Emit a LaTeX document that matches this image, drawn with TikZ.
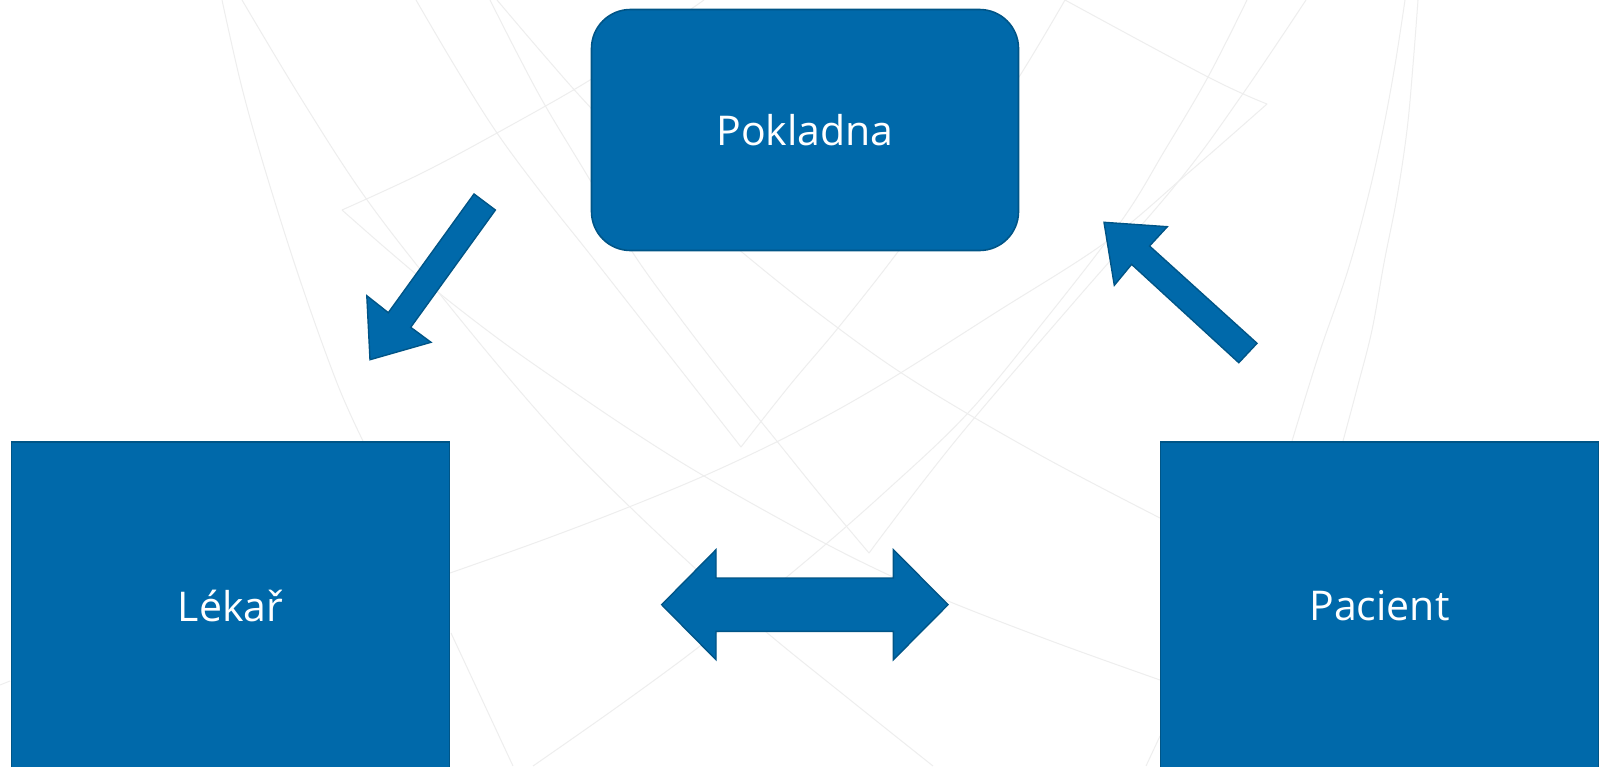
\documentclass[tikz,border=0pt]{standalone}
\usepackage{fontspec}
\setmainfont{Open Sans}
\definecolor{boxblue}{HTML}{0069AA}
\definecolor{boxedge}{HTML}{005587}
\definecolor{bgline}{HTML}{EEEEEE}
\tikzset{
  bg/.style={draw=bgline,line width=1pt},
  actor/.style={draw=boxedge,fill=boxblue,line width=1.6pt,text=white,inner sep=0pt,
    font=\fontsize{41}{46}\selectfont},
  blockarrow/.style={draw=boxedge,fill=boxblue,line width=1.4pt,line join=miter}
}
\newcommand{\bgcurve}[1]{\draw[bg] plot[smooth,tension=0.6] coordinates {#1};}
\begin{document}
\begin{tikzpicture}[x=1pt,y=-1pt]
\clip (0,0) rectangle (1601,766);
\fill[white] (0,0) rectangle (1601,766);
% background line work
\bgcurve{(704,0) (650,38) (590,80) (497,133) (420,174) (342,210)}
\bgcurve{(342,210) (390,252) (439,293) (500,340) (561,383) (632,431) (704,476) (800,530) (874,568) (948,601) (1054,642) (1160,680)}
\draw[bg] (0,685) -- (10,681);
\bgcurve{(450,573) (540,541) (629,507) (715,471) (800,430) (884,383) (995,313) (1106,242) (1187,174) (1267,104)}
\bgcurve{(1267,104) (1208,77) (1065,0)}
\bgcurve{(1065,0) (1019,77) (958,168) (897,253) (838,328) (790,385) (741,447)}
\bgcurve{(416,0) (456,68) (497,133) (543,195) (589,253) (640,318) (691,383) (741,447)}
\bgcurve{(490,0) (518,55) (546,107) (590,180) (633,253) (680,318) (730,383) (776,440) (822,497) (869,553)}
\bgcurve{(869,553) (922,483) (976,416) (1075,301) (1178,182) (1242,95) (1306,0)}
\bgcurve{(1247,0) (1208,77) (1165,150) (1122,220) (1045,320) (968,413) (885,492) (800,566) (704,643) (620,705) (533,766)}
\bgcurve{(242,0) (302,100) (365,197) (439,293) (513,383) (570,447) (630,507) (697,570) (765,631) (849,699) (933,766)}
\bgcurve{(222,0) (242,88) (266,173) (300,280) (337,383) (363,441)}
\draw[bg] (451,633) -- (513,766);
\bgcurve{(497,0) (543,54) (590,107) (665,185) (743,253) (830,322) (917,383) (1040,455) (1160,518)}
\bgcurve{(1418,0) (1413,65) (1407,130) (1397,197) (1384,263) (1372,330) (1358,385) (1343,441)}
\bgcurve{(1405,0) (1395,65) (1383,130) (1368,197) (1348,270) (1322,345) (1307,392) (1292,441)}
\draw[bg] (1160,736) -- (1146,766);
% boxes
\node[actor,rounded corners=39pt,minimum width=427pt,minimum height=241pt] (pokladna) at (805,130) {Pokladna};
\node[actor,minimum width=438pt,minimum height=328pt] (lekar) at (230.5,606) {Lékař};
\node[actor,minimum width=438pt,minimum height=328pt] (pacient) at (1379.5,606) {Pacient};
% block arrows
\draw[blockarrow] (474,194) -- (495.4,210) -- (410.7,327.3) -- (431,342.3) -- (370,359.7) -- (366.8,295.7) -- (388.3,312.7) -- cycle;
\draw[blockarrow] (1104,222.3) -- (1167.3,226.7) -- (1149.5,246) -- (1257,343.3) -- (1238.8,362.7) -- (1131.6,264.3) -- (1114.3,285.3) -- cycle;
\draw[blockarrow] (661.7,604.7) -- (716,549.7) -- (716,578) -- (893.4,578) -- (893.4,549.7) -- (948,604.7) -- (893.4,659.7) -- (893.4,631.3) -- (716,631.3) -- (716,659.7) -- cycle;
\end{tikzpicture}
\end{document}
